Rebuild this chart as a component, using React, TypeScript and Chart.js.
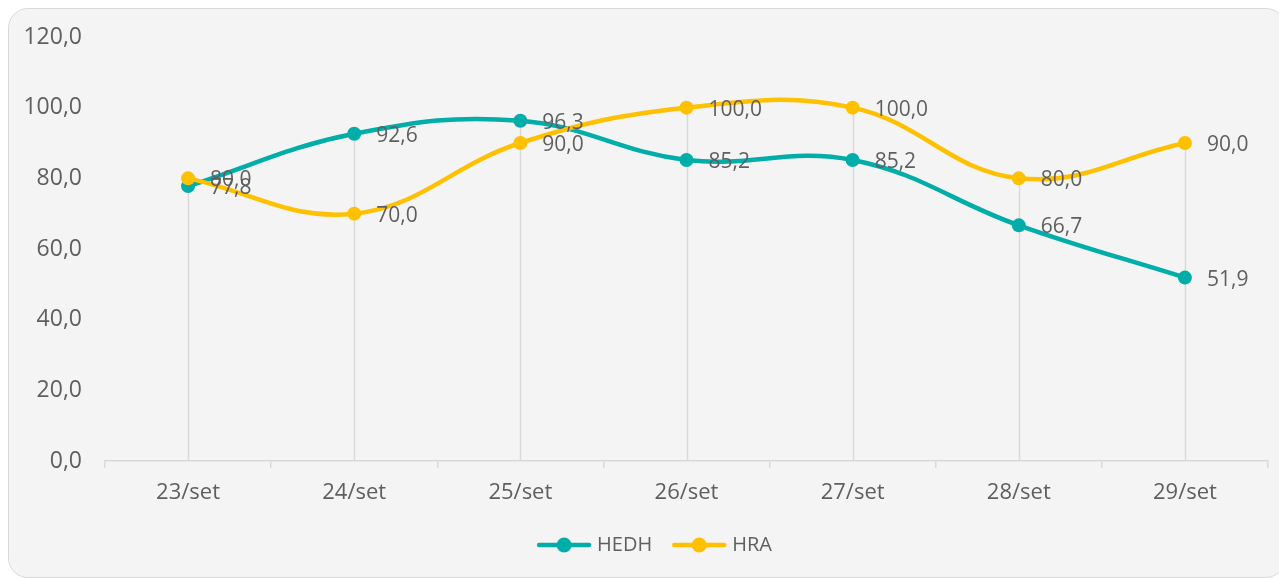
import React, { useEffect, useRef } from "react";
import { Chart, registerables } from "chart.js";

Chart.register(...registerables);

const categories = ["23/set", "24/set", "25/set", "26/set", "27/set", "28/set", "29/set"];
const hedhValues = [77.8, 92.6, 96.3, 85.2, 85.2, 66.7, 51.9];
const hraValues = [80.0, 70.0, 90.0, 100.0, 100.0, 80.0, 90.0];
const seriesNames = ["HEDH", "HRA"];
const seriesColors = ["#00ADA9", "#FFC000"];
const yMin = 0;
const yMax = 120;
const yStep = 20;

const TEXT_COLOR = "#5f5f5f";
const FONT_FAMILY = "'Open Sans', 'Noto Sans', sans-serif";
const Y_FONT = 23;
const X_FONT = 22;
const LABEL_FONT = 21;
const LEGEND_FONT = 20;

const fmt = (v: number) => v.toFixed(1).replace(".", ",");

function legendMarker(color: string) {
  const c = document.createElement("canvas");
  c.width = 56;
  c.height = 16;
  const g = c.getContext("2d")!;
  g.strokeStyle = color;
  g.lineWidth = 4.5;
  g.lineCap = "round";
  g.beginPath();
  g.moveTo(3, 8);
  g.lineTo(53, 8);
  g.stroke();
  g.fillStyle = color;
  g.beginPath();
  g.arc(28, 8, 7.5, 0, Math.PI * 2);
  g.fill();
  return c;
}

const dropLines = {
  id: "dropLines",
  beforeDatasetsDraw(chart: any) {
    const { ctx, chartArea, scales } = chart;
    const xs = scales.x;
    const ys = scales.y;
    ctx.save();
    ctx.strokeStyle = "#d9d9d9";
    ctx.lineWidth = 1.5;
    (chart.data.labels as string[]).forEach((_, i) => {
      const vals = chart.data.datasets.map((d: any) => d.data[i] as number);
      const top = Math.max(...vals);
      const px = Math.round(xs.getPixelForValue(i)) + 0.5;
      ctx.beginPath();
      ctx.moveTo(px, ys.getPixelForValue(top));
      ctx.lineTo(px, chartArea.bottom);
      ctx.stroke();
    });
    ctx.restore();
  },
};

const dataLabels = {
  id: "dataLabels",
  afterDatasetsDraw(chart: any) {
    const { ctx } = chart;
    ctx.save();
    ctx.font = `${LABEL_FONT}px ${FONT_FAMILY}`;
    ctx.fillStyle = TEXT_COLOR;
    ctx.textAlign = "left";
    ctx.textBaseline = "middle";
    chart.data.datasets.forEach((ds: any, di: number) => {
      const meta = chart.getDatasetMeta(di);
      meta.data.forEach((pt: any, j: number) => {
        ctx.fillText(fmt(ds.data[j]), pt.x + 22, pt.y + 2);
      });
    });
    ctx.restore();
  },
};

const legendShift = {
  id: "legendShift",
  afterLayout(chart: any) {
    if (chart.legend) {
      chart.legend.left += 14;
      chart.legend.right += 14;
    }
  },
};

function ChartCard() {
  const ref = useRef<HTMLCanvasElement | null>(null);

  useEffect(() => {
    if (!ref.current) return;
    const series = [hedhValues, hraValues];
    const chart = new Chart(ref.current, {
      type: "line",
      data: {
        labels: categories,
        datasets: series.map((vals, i) => ({
          label: seriesNames[i],
          data: vals,
          borderColor: seriesColors[i],
          backgroundColor: seriesColors[i],
          borderWidth: 4.5,
          tension: 0.4,
          pointRadius: 7,
          pointHoverRadius: 7,
          pointBorderWidth: 0,
          pointBackgroundColor: seriesColors[i],
          order: i === 0 ? 1 : 0,
          fill: false,
        })),
      },
      options: {
        animation: false,
        responsive: true,
        maintainAspectRatio: false,
        layout: { padding: { top: 28, left: 8, right: 17, bottom: 12 } },
        plugins: {
          tooltip: { enabled: false },
          legend: {
            position: "bottom",
            align: "center",
            labels: {
              usePointStyle: true,
              pointStyleWidth: 46,
              padding: 24,
              color: TEXT_COLOR,
              font: { family: FONT_FAMILY, size: LEGEND_FONT },
              generateLabels: (c: any) =>
                c.data.datasets.map((ds: any, i: number) => ({
                  text: ds.label,
                  pointStyle: legendMarker(seriesColors[i]),
                  fillStyle: seriesColors[i],
                  strokeStyle: seriesColors[i],
                  lineWidth: 0,
                  hidden: false,
                  datasetIndex: i,
                  fontColor: TEXT_COLOR,
                })),
            },
          },
        },
        scales: {
          x: {
            type: "category",
            offset: true,
            afterFit: (s: any) => {
              s.height = 50;
            },
            grid: {
              display: true,
              offset: true,
              drawOnChartArea: false,
              drawTicks: true,
              tickLength: 7,
              color: "#d9d9d9",
              lineWidth: 1.5,
            },
            border: { display: true, color: "#d9d9d9", width: 1.5 },
            ticks: {
              color: TEXT_COLOR,
              padding: 12,
              font: { family: FONT_FAMILY, size: X_FONT },
              maxRotation: 0,
            },
          },
          y: {
            min: yMin,
            max: yMax,
            afterFit: (s: any) => {
              s.width = 88;
              s.paddingTop = 0;
              s.paddingBottom = 0;
            },
            grid: { display: false, drawTicks: false },
            border: { display: false },
            ticks: {
              stepSize: yStep,
              padding: 23,
              color: TEXT_COLOR,
              font: { family: FONT_FAMILY, size: Y_FONT },
              callback: (v: any) => fmt(Number(v)),
            },
          },
        },
      },
      plugins: [dropLines, dataLabels, legendShift],
    } as any);
    return () => chart.destroy();
  }, []);

  return (
    <div
      style={{
        width: 1278,
        height: 570,
        boxSizing: "border-box",
        border: "1px solid #d9d9d9",
        borderRadius: 20,
        background: "#f4f4f4",
        overflow: "hidden",
        position: "relative",
      }}
    >
      <div style={{ position: "absolute", left: 0, top: 0, width: 1276, height: 568 }}>
        <canvas ref={ref} />
      </div>
    </div>
  );
}

export default function App() {
  return (
    <>
      <style>{`html,body{overflow:hidden;}`}</style>
      <ChartCard />
    </>
  );
}
